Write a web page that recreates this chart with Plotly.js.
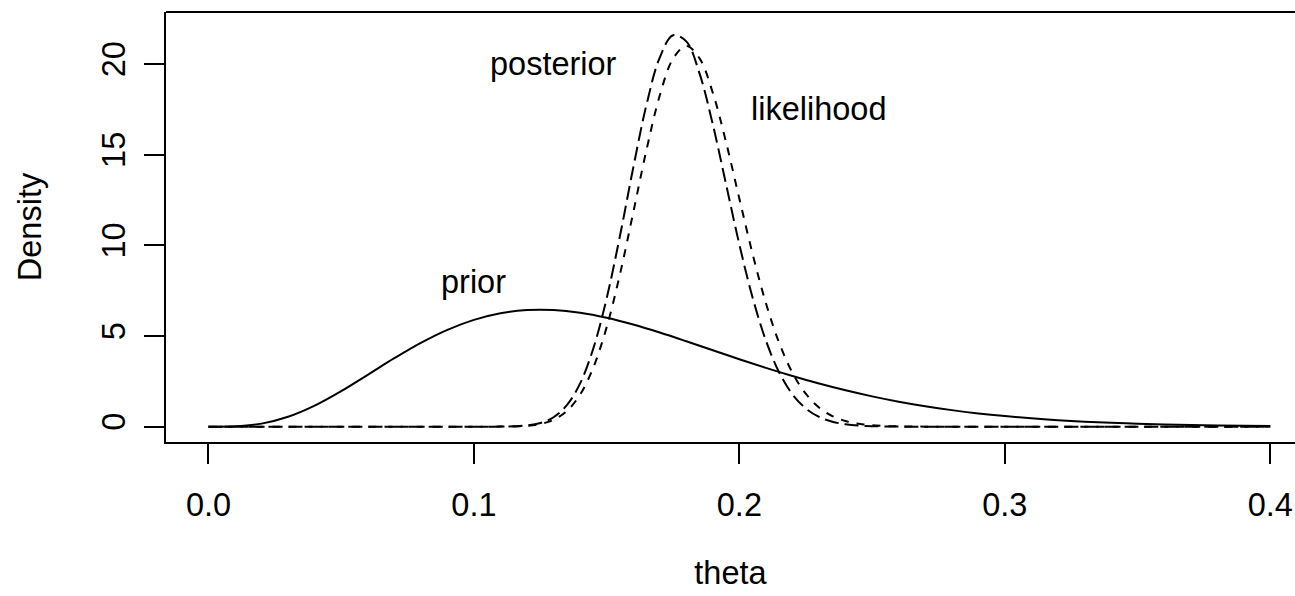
<!DOCTYPE html>
<html>
<head>
<meta charset="utf-8">
<script src="https://cdn.plot.ly/plotly-3.0.1.min.js"></script>
<style>html,body{margin:0;padding:0;background:#fff;}#chart{width:1295px;height:596px;}</style>
</head>
<body>
<div id="chart"></div>
<script>
// theta grid and densities
const priorTheta = [0.00,0.01,0.02,0.03,0.04,0.05,0.06,0.07,0.08,0.09,0.10,0.11,0.12,0.13,0.14,0.15,0.16,0.17,0.18,0.19,0.20,
  0.21,0.22,0.23,0.24,0.25,0.26,0.27,0.28,0.29,0.30,0.31,0.32,0.33,0.34,0.35,0.36,0.37,0.38,0.39,0.40];
const priorDensity = [0,0.019,0.170,0.546,1.159,1.959,2.861,3.776,4.624,5.343,5.893,6.257,6.432,6.433,6.281,6.005,5.632,5.193,4.712,4.216,3.721,
  3.243,2.794,2.379,2.005,1.672,1.380,1.129,0.914,0.734,0.584,0.460,0.360,0.279,0.214,0.163,0.123,0.092,0.068,0.050,0.037];

const peakTheta = [0.00,0.05,0.10,0.105,0.110,0.115,0.120,0.125,0.130,0.135,0.140,0.145,0.150,0.155,0.160,0.165,0.170,0.175,0.180,
  0.185,0.190,0.195,0.200,0.205,0.210,0.215,0.220,0.225,0.230,0.235,0.240,0.245,0.250,0.255,0.260,0.265,0.270,0.30,0.35,0.40];
const likelihoodDensity = [0,0,0,0.001,0.004,0.015,0.050,0.147,0.378,0.865,1.771,3.274,5.490,8.404,11.802,15.261,18.262,20.290,21.000,
  20.312,18.407,15.674,12.567,9.515,6.810,4.617,2.972,1.819,1.059,0.588,0.312,0.158,0.076,0.036,0.016,0.007,0.003,0,0,0];
const posteriorDensity = [0,0,0,0.001,0.005,0.021,0.070,0.204,0.522,1.184,2.389,4.328,7.078,10.515,14.271,17.754,20.357,21.589,21.249,
  19.472,16.663,13.352,10.041,7.107,4.742,2.988,1.783,1.008,0.541,0.276,0.134,0.062,0.028,0.012,0.005,0.002,0.001,0,0,0];

const xTickVals = [0, 0.1, 0.2, 0.3, 0.4];
const xTickText = ['0.0', '0.1', '0.2', '0.3', '0.4'];
const yTickVals = [0, 5, 10, 15, 20];
const yTickText = ['0', '5', '10', '15', '20'];

const labels = [
  {text: 'posterior', x: 0.13, y: 20},
  {text: 'likelihood', x: 0.23, y: 17.5},
  {text: 'prior', x: 0.10, y: 8}
];

const FONT = 'Liberation Sans, Arial, Helvetica, sans-serif';
const FS = 32.5;
const lineBase = {color: '#000', width: 2, shape: 'spline', smoothing: 1};

const traces = [
  {x: priorTheta, y: priorDensity, type: 'scatter', mode: 'lines', name: 'prior',
   line: Object.assign({}, lineBase, {dash: 'solid'}), hoverinfo: 'skip'},
  {x: peakTheta, y: likelihoodDensity, type: 'scatter', mode: 'lines', name: 'likelihood',
   line: Object.assign({}, lineBase, {dash: '8px,8px'}), hoverinfo: 'skip'},
  {x: peakTheta, y: posteriorDensity, type: 'scatter', mode: 'lines', name: 'posterior',
   line: Object.assign({}, lineBase, {dash: '14px,6px'}), hoverinfo: 'skip'}
];

const layout = {
  width: 1295, height: 596,
  margin: {l: 166, r: 0, t: 12, b: 154, pad: 0},
  paper_bgcolor: '#fff', plot_bgcolor: '#fff',
  showlegend: false,
  font: {family: FONT, size: FS, color: '#000'},
  xaxis: {
    range: [-0.016, 0.4093],
    tickvals: xTickVals, ticktext: xTickText,
    ticks: 'outside', ticklen: 20, tickwidth: 2, tickcolor: '#000',
    showline: true, linewidth: 2, linecolor: '#000', mirror: false,
    showgrid: false, zeroline: false,
    tickfont: {family: FONT, size: FS, color: '#000'},
    ticklabelstandoff: 13,
    title: {text: 'theta', font: {family: FONT, size: FS, color: '#000'}, standoff: 39}
  },
  yaxis: {
    range: [-0.844, 22.87],
    tickvals: yTickVals, ticktext: yTickText, tickangle: -90,
    ticks: 'outside', ticklen: 20, tickwidth: 2, tickcolor: '#000',
    showline: true, linewidth: 2, linecolor: '#000', mirror: false,
    showgrid: false, zeroline: false,
    tickfont: {family: FONT, size: FS, color: '#000'},
    ticklabelstandoff: 6,
    title: {text: 'Density', font: {family: FONT, size: FS, color: '#000'}, standoff: 45}
  },
  shapes: [
    {type: 'line', xref: 'paper', yref: 'paper', x0: 0, x1: 1, y0: 1, y1: 1,
     line: {color: '#000', width: 2}}
  ],
  annotations: labels.map(l => ({
    text: l.text, x: l.x, y: l.y, xref: 'x', yref: 'y',
    showarrow: false, xanchor: 'center', yanchor: 'middle',
    font: {family: FONT, size: FS, color: '#000'}
  }))
};

Plotly.newPlot('chart', traces, layout, {staticPlot: true, displayModeBar: false});
</script>
</body>
</html>
